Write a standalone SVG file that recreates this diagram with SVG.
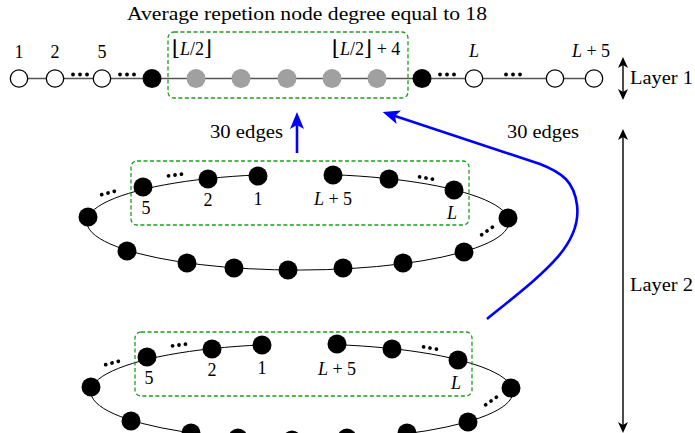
<svg xmlns="http://www.w3.org/2000/svg" xmlns:xlink="http://www.w3.org/1999/xlink" width="695" height="433" viewBox="0 0 695 433">
<style>
text{font-family:"Liberation Serif","Times New Roman",serif;font-size:18px;fill:#000}
.fl{font-family:"DejaVu Serif",serif;font-size:21px}
.m{text-anchor:middle}
.it{font-style:italic}
.open{fill:#fff;stroke:#000;stroke-width:1.3}
.blk{fill:#000}
.gry{fill:#a0a0a0}
.box{fill:none;stroke:#1f9a1f;stroke-width:1.3;stroke-dasharray:4 2.5}
.ring{fill:none;stroke:#000;stroke-width:1}
.blue{fill:none;stroke:#0000ff;stroke-width:2.6}
.dbl{stroke:#000;stroke-width:1.4;fill:none}
</style>
<defs>
<g id="dots"><circle cx="-7" cy="0" r="1.9"/><circle cx="0" cy="0" r="1.9"/><circle cx="7" cy="0" r="1.9"/></g>
<g id="dots2"><circle cx="-6.5" cy="0" r="1.9"/><circle cx="0" cy="0" r="1.9"/><circle cx="6.5" cy="0" r="1.9"/></g>
<marker id="ab" markerUnits="userSpaceOnUse" viewBox="0 -8 17 16" refX="4" refY="0" markerWidth="17" markerHeight="16" orient="auto">
<path d="M0,-7 L17,0 L0,7 L4,0 z" fill="#0000ff"/>
</marker>
<marker id="ak" markerUnits="userSpaceOnUse" viewBox="0 -6 11 12" refX="3" refY="0" markerWidth="11" markerHeight="12" orient="auto-start-reverse">
<path d="M0,-5 L11,0 L0,5 L3,0 z" fill="#000"/>
</marker>
</defs>

<text x="127" y="20" textLength="360" lengthAdjust="spacingAndGlyphs">Average repetion node degree equal to 18</text>

<g id="connectors">
<line x1="19" y1="78.5" x2="594" y2="78.5" stroke="#555" stroke-width="1.3"/>
<path class="ring" d="M258,174.9 A211,48 0 1 0 333,174.7"/>
<path class="ring" d="M262,344.9 A211,48 0 1 0 337,344.7"/>
<line class="blue" x1="297" y1="153" x2="297" y2="125" marker-end="url(#ab)"/>
<path class="blue" d="M487,319 C545,272 582,245 577,205 C574,182 563,173 540,164 L395,116" marker-end="url(#ab)"/>
<line class="dbl" x1="623" y1="65" x2="623" y2="92" marker-start="url(#ak)" marker-end="url(#ak)"/>
<line class="dbl" x1="623" y1="137" x2="623" y2="425" marker-start="url(#ak)" marker-end="url(#ak)"/>
</g>

<g id="layer1">
<rect class="box" x="168" y="32" width="240" height="66" rx="6"/>
<g id="n1-1"><circle class="open" cx="19" cy="78.5" r="8.7"/><text class="m" x="19" y="58">1</text></g>
<g id="n1-2"><circle class="open" cx="55" cy="78.5" r="8.7"/><text class="m" x="55" y="58">2</text></g>
<g id="n1-5"><circle class="open" cx="102" cy="78.5" r="8.7"/><text class="m" x="102" y="58">5</text></g>
<g id="n1-b1"><circle class="blk" cx="152" cy="78.5" r="9.5"/></g>
<g id="n1-g1"><circle class="gry" cx="196" cy="78.5" r="9.5"/><text class="m" x="192" y="55"><tspan class="fl">⌊</tspan><tspan class="it">L</tspan>/2<tspan class="fl">⌋</tspan></text></g>
<g id="n1-g2"><circle class="gry" cx="241" cy="78.5" r="9.5"/></g>
<g id="n1-g3"><circle class="gry" cx="287" cy="78.5" r="9.5"/></g>
<g id="n1-g4"><circle class="gry" cx="332" cy="78.5" r="9.5"/></g>
<g id="n1-g5"><circle class="gry" cx="377" cy="78.5" r="9.5"/><text class="m" x="366" y="55"><tspan class="fl">⌊</tspan><tspan class="it">L</tspan>/2<tspan class="fl">⌋</tspan> + 4</text></g>
<g id="n1-b2"><circle class="blk" cx="422" cy="78.5" r="9.5"/></g>
<g id="n1-L"><circle class="open" cx="474" cy="78.5" r="8.7"/><text class="m it" x="474" y="57">L</text></g>
<g id="n1-o"><circle class="open" cx="555" cy="78.5" r="8.7"/></g>
<g id="n1-L5"><circle class="open" cx="594" cy="78.5" r="8.7"/><text class="m" x="591" y="57"><tspan class="it">L</tspan> + 5</text></g>
<use xlink:href="#dots" x="80" y="74.5"/>
<use xlink:href="#dots" x="127" y="74.5"/>
<use xlink:href="#dots" x="447" y="74.5"/>
<use xlink:href="#dots" x="513" y="74.5"/>
</g>

<text x="210" y="138" textLength="73" lengthAdjust="spacingAndGlyphs">30 edges</text>
<text x="507" y="138" textLength="72" lengthAdjust="spacingAndGlyphs">30 edges</text>
<text x="630" y="84" textLength="63" lengthAdjust="spacingAndGlyphs">Layer 1</text>
<text x="630" y="291" textLength="63" lengthAdjust="spacingAndGlyphs">Layer 2</text>

<g id="layer2a">
<rect class="box" x="131" y="161" width="338" height="64" rx="6"/>
<g id="a-left"><circle class="blk" cx="88" cy="217" r="9.5"/></g>
<g id="a-5"><circle class="blk" cx="143" cy="187" r="9.5"/><text class="m" x="146" y="214">5</text></g>
<g id="a-2"><circle class="blk" cx="208" cy="179" r="9.5"/><text class="m" x="208" y="206">2</text></g>
<g id="a-1"><circle class="blk" cx="258" cy="176" r="9.5"/><text class="m" x="258" y="205">1</text></g>
<g id="a-L5"><circle class="blk" cx="333" cy="175" r="9.5"/><text class="m" x="333" y="205"><tspan class="it">L</tspan> + 5</text></g>
<g id="a-n6"><circle class="blk" cx="389" cy="179" r="9.5"/></g>
<g id="a-L"><circle class="blk" cx="454" cy="190" r="9.5"/><text class="m it" x="452" y="219">L</text></g>
<g id="a-right"><circle class="blk" cx="508" cy="218" r="9.5"/></g>
<g id="a-b1"><circle class="blk" cx="464" cy="252" r="9.5"/></g>
<g id="a-b2"><circle class="blk" cx="403" cy="263" r="9.5"/></g>
<g id="a-b3"><circle class="blk" cx="343" cy="268" r="9.5"/></g>
<g id="a-b4"><circle class="blk" cx="288" cy="270" r="9.5"/></g>
<g id="a-b5"><circle class="blk" cx="234" cy="268" r="9.5"/></g>
<g id="a-b6"><circle class="blk" cx="187" cy="263" r="9.5"/></g>
<g id="a-b7"><circle class="blk" cx="127" cy="251" r="9.5"/></g>
<use xlink:href="#dots2" transform="translate(108,193) rotate(-15)"/>
<use xlink:href="#dots2" transform="translate(175,175) rotate(-7)"/>
<use xlink:href="#dots2" transform="translate(426,178) rotate(10)"/>
<use xlink:href="#dots2" transform="translate(487,231) rotate(-35)"/>
</g>

<g id="layer2b">
<rect class="box" x="135" y="332" width="337" height="64" rx="6"/>
<g id="b-left"><circle class="blk" cx="91" cy="387" r="9.5"/></g>
<g id="b-5"><circle class="blk" cx="147" cy="357" r="9.5"/><text class="m" x="149" y="384">5</text></g>
<g id="b-2"><circle class="blk" cx="212" cy="349" r="9.5"/><text class="m" x="212" y="376">2</text></g>
<g id="b-1"><circle class="blk" cx="262" cy="345" r="9.5"/><text class="m" x="262" y="374">1</text></g>
<g id="b-L5"><circle class="blk" cx="337" cy="344" r="9.5"/><text class="m" x="337" y="375"><tspan class="it">L</tspan> + 5</text></g>
<g id="b-n6"><circle class="blk" cx="392" cy="349" r="9.5"/></g>
<g id="b-L"><circle class="blk" cx="458" cy="360" r="9.5"/><text class="m it" x="456" y="389">L</text></g>
<g id="b-right"><circle class="blk" cx="511" cy="388" r="9.5"/></g>
<g id="b-b1"><circle class="blk" cx="468" cy="422" r="9.5"/></g>
<g id="b-b2"><circle class="blk" cx="407" cy="433" r="9.5"/></g>
<g id="b-b3"><circle class="blk" cx="347" cy="438" r="9.5"/></g>
<g id="b-b4"><circle class="blk" cx="292" cy="440" r="9.5"/></g>
<g id="b-b5"><circle class="blk" cx="238" cy="438" r="9.5"/></g>
<g id="b-b6"><circle class="blk" cx="191" cy="433" r="9.5"/></g>
<g id="b-b7"><circle class="blk" cx="131" cy="421" r="9.5"/></g>
<use xlink:href="#dots2" transform="translate(112,363) rotate(-15)"/>
<use xlink:href="#dots2" transform="translate(179,345) rotate(-7)"/>
<use xlink:href="#dots2" transform="translate(430,348) rotate(10)"/>
<use xlink:href="#dots2" transform="translate(491,401) rotate(-35)"/>
</g>
</svg>
